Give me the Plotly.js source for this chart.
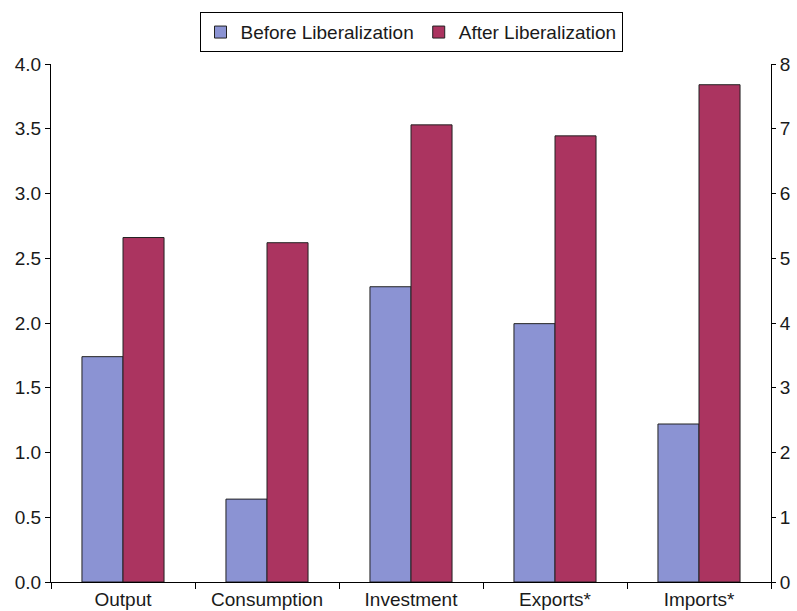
<!DOCTYPE html>
<html>
<head>
<meta charset="utf-8">
<script src="https://cdn.plot.ly/plotly-3.0.1.min.js"></script>
<style>html,body{margin:0;padding:0;background:#fff;}#chart{width:797px;height:611px;}</style>
</head>
<body>
<div id="chart"></div>
<script>
// Categories measured on the left axis
const leftCategories = ["Output", "Consumption", "Investment"];
const beforeLeft = [1.74, 0.64, 2.28];
const afterLeft = [2.66, 2.62, 3.53];
// Categories measured on the right axis (*)
const rightCategories = ["Exports*", "Imports*"];
const beforeRight = [3.99, 2.44];
const afterRight = [6.89, 7.68];
const allCategories = leftCategories.concat(rightCategories);
const seriesNames = ["Before Liberalization", "After Liberalization"];
const colors = ["#8b93d3", "#ab3460"];

const lineStyle = {color: "#222", width: 1};
const traces = [
  {type: "bar", x: leftCategories, y: beforeLeft, name: seriesNames[0], offsetgroup: "b", legendgroup: "b",
   marker: {color: colors[0], line: lineStyle}, yaxis: "y"},
  {type: "bar", x: leftCategories, y: afterLeft, name: seriesNames[1], offsetgroup: "a", legendgroup: "a",
   marker: {color: colors[1], line: lineStyle}, yaxis: "y"},
  {type: "bar", x: rightCategories, y: beforeRight, name: seriesNames[0], offsetgroup: "b", legendgroup: "b", showlegend: false,
   marker: {color: colors[0], line: lineStyle}, yaxis: "y2"},
  {type: "bar", x: rightCategories, y: afterRight, name: seriesNames[1], offsetgroup: "a", legendgroup: "a", showlegend: false,
   marker: {color: colors[1], line: lineStyle}, yaxis: "y2"}
];

const font = {family: "Liberation Sans, Arial, sans-serif", size: 19, color: "#1a1a1a"};
const layout = {
  width: 797, height: 611,
  margin: {l: 51, r: 26, t: 61, b: 29, pad: 0},
  paper_bgcolor: "#fff", plot_bgcolor: "#fff",
  font: font,
  barmode: "group", bargap: 0.43, bargroupgap: 0,
  showlegend: true,
  legend: {orientation: "h", x: 0.5, xanchor: "center", y: 1.1, yanchor: "top",
           bordercolor: "#000", borderwidth: 1, font: font, traceorder: "normal",
           itemwidth: 30, tracegroupgap: 0},
  xaxis: {type: "category", categoryorder: "array", categoryarray: allCategories,
          showline: true, linecolor: "#000", linewidth: 1, ticks: "outside", ticklen: 6, tickcolor: "#000",
          tickson: "boundaries", showgrid: false, zeroline: false, fixedrange: true},
  yaxis: {range: [0, 4], dtick: 0.5, tickformat: ".1f", showline: true, linecolor: "#000", linewidth: 1,
          ticks: "outside", ticklen: 5, tickcolor: "#000", showgrid: false, zeroline: false},
  yaxis2: {range: [0, 8], dtick: 1, overlaying: "y", side: "right", showline: true, linecolor: "#000", linewidth: 1,
           ticks: "outside", ticklen: 4, tickcolor: "#000", showgrid: false, zeroline: false}
};
Plotly.newPlot("chart", traces, layout, {staticPlot: true});
</script>
</body>
</html>
